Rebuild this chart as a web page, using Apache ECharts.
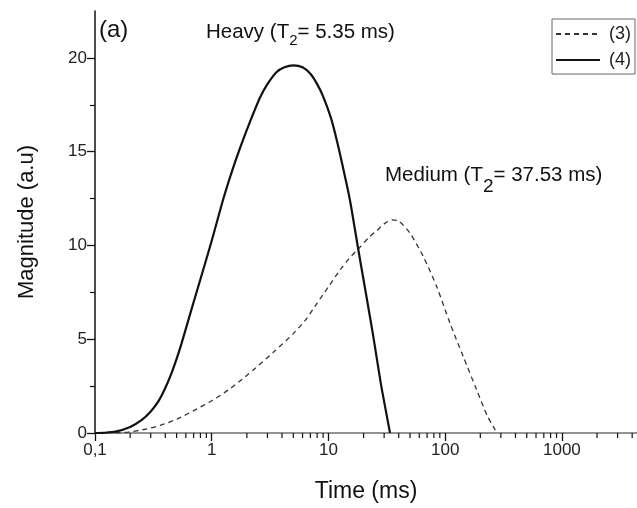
<!DOCTYPE html>
<html>
<head>
<meta charset="utf-8">
<script src="https://cdn.jsdelivr.net/npm/echarts@6/dist/echarts.min.js"></script>
<style>
html,body{margin:0;padding:0;background:#fff;}
#chart{width:637px;height:508px;}
</style>
</head>
<body>
<div id="chart"></div>
<script>
// Series (4) solid – Heavy
const timeHeavy = [0.1, 0.12, 0.15, 0.2, 0.25, 0.3, 0.35, 0.4, 0.45, 0.5, 0.55, 0.65, 0.8, 1.0, 1.26, 1.5, 1.75, 2.13, 2.6, 3.0, 3.6, 4.2, 5.0, 6.0, 7.0, 8.0, 9.0, 10.5, 11.8, 13.5, 15.3, 18, 21, 24.3, 28, 31, 33.7];
const valHeavy  = [0, 0.01, 0.07, 0.32, 0.68, 1.15, 1.7, 2.4, 3.15, 3.95, 4.75, 6.3, 8.2, 10.25, 12.5, 14.0, 15.2, 16.6, 17.9, 18.6, 19.25, 19.5, 19.6, 19.5, 19.15, 18.6, 17.95, 16.8, 15.6, 14.0, 12.4, 9.8, 7.4, 5.1, 2.7, 1.2, 0];
// Series (3) dashed – Medium
const timeMedium = [0.15, 0.193, 0.268, 0.372, 0.518, 0.72, 1.0, 1.39, 1.94, 2.36, 3.37, 5.0, 6.5, 7.95, 10, 12.6, 15, 18.6, 22, 26, 30, 35, 40, 50, 65, 84.7, 110, 143, 186, 230, 259, 276];
const valMedium  = [0, 0.05, 0.2, 0.43, 0.78, 1.23, 1.72, 2.3, 3.0, 3.45, 4.3, 5.3, 6.1, 6.9, 7.8, 8.7, 9.3, 9.9, 10.4, 10.8, 11.15, 11.36, 11.3, 10.65, 9.4, 7.8, 5.85, 4.07, 2.3, 0.9, 0.34, 0];
// Axis tick labels / minor tick values
const yTickValues = [0, 5, 10, 15, 20];
const xMinorTicks = [0.2,0.3,0.4,0.5,0.6,0.7,0.8,0.9, 2,3,4,5,6,7,8,9, 20,30,40,50,60,70,80,90, 200,300,400,500,600,700,800,900, 2000,3000,4000];
const seriesNames = ['(3)', '(4)'];

const FONT = 'Liberation Sans, Arial, sans-serif';
const chart = echarts.init(document.getElementById('chart'));

function zip(a, b) { return a.map((v, i) => [v, b[i]]); }

chart.setOption({
  animation: false,
  backgroundColor: '#fff',
  textStyle: { fontFamily: FONT },
  grid: { left: 95, top: 11, right: 0, bottom: 75, containLabel: false },
  legend: {
    orient: 'vertical',
    right: 2,
    top: 19,
    data: seriesNames,
    itemWidth: 44,
    itemHeight: 12,
    itemGap: 8,
    padding: [6, 4, 5, 3],
    borderColor: '#666',
    borderWidth: 1,
    itemStyle: { opacity: 0 },
    textStyle: { fontFamily: FONT, fontSize: 18, color: '#222', padding: [0, 0, 0, 4] }
  },
  xAxis: [{
    type: 'log',
    logBase: 10,
    min: 0.1,
    max: 4400,
    position: 'bottom',
    name: 'Time (ms)',
    nameLocation: 'middle',
    nameGap: 47,
    nameTextStyle: { fontFamily: FONT, fontSize: 23, color: '#111' },
    axisLine: { onZero: false, lineStyle: { color: '#111', width: 1.5 } },
    axisTick: { show: true, inside: false, length: 8, lineStyle: { color: '#111', width: 1.3 } },
    axisLabel: {
      fontFamily: FONT, fontSize: 17, color: '#222', margin: 9,
      showMaxLabel: false,
      formatter: function (v) { return v === 0.1 ? '0,1' : String(v); }
    },
    splitLine: { show: false },
    minorTick: { show: false }
  }, {
    type: 'log',
    min: 0.1,
    max: 4400,
    position: 'top',
    axisLine: { show: true, lineStyle: { color: '#aaa', width: 1.5 } },
    axisTick: { show: false },
    axisLabel: { show: false },
    splitLine: { show: false }
  }],
  yAxis: {
    type: 'value',
    min: 0,
    max: 22.5,
    interval: 5,
    name: 'Magnitude (a.u)',
    nameLocation: 'middle',
    nameGap: 57,
    nameTextStyle: { fontFamily: FONT, fontSize: 22, color: '#111' },
    axisLine: { show: true, lineStyle: { color: '#111', width: 1.5 } },
    axisTick: { show: true, inside: false, length: 8, customValues: yTickValues, lineStyle: { color: '#111', width: 1.3 } },
    minorTick: { show: true, splitNumber: 2, length: 5, lineStyle: { color: '#111', width: 1.2 } },
    axisLabel: { fontFamily: FONT, fontSize: 17, color: '#222', margin: 8, customValues: yTickValues },
    splitLine: { show: false }
  },
  series: [{
    name: '(3)',
    type: 'line',
    data: zip(timeMedium, valMedium),
    smooth: 0.25,
    symbol: 'none',
    showSymbol: false,
    lineStyle: { color: '#333', width: 1.3, type: [5, 4] },
    itemStyle: { color: '#333' },
    z: 3
  }, {
    name: '(4)',
    type: 'line',
    data: zip(timeHeavy, valHeavy),
    smooth: 0.25,
    symbol: 'none',
    showSymbol: false,
    lineStyle: { color: '#111', width: 2.2, type: 'solid' },
    itemStyle: { color: '#111' },
    z: 4
  }, {
    name: 'minorTicks',
    type: 'custom',
    silent: true,
    clip: false,
    data: xMinorTicks.map(v => [v, 0]),
    renderItem: function (params, api) {
      const p = api.coord([api.value(0), 0]);
      return {
        type: 'line',
        shape: { x1: p[0], y1: p[1], x2: p[0], y2: p[1] + 5 },
        style: { stroke: '#111', lineWidth: 1.2 }
      };
    },
    z: 2
  }],
  graphic: [{
    type: 'text',
    left: 99,
    top: 18,
    style: { text: '(a)', fontFamily: FONT, fontSize: 24, fill: '#111' }
  }, {
    type: 'text',
    left: 206,
    top: 22,
    style: {
      text: '{a|Heavy (T}{s|2}{a|= 5.35 ms)}',
      rich: {
        a: { fontFamily: FONT, fontSize: 20.5, fill: '#111', verticalAlign: 'top', lineHeight: 20 },
        s: { fontFamily: FONT, fontSize: 15, fill: '#111', verticalAlign: 'top', lineHeight: 15, padding: [11, 0, 0, 0] }
      }
    }
  }, {
    type: 'text',
    left: 385,
    top: 165,
    style: {
      text: '{a|Medium (T}{s|2}{a|= 37.53 ms)}',
      rich: {
        a: { fontFamily: FONT, fontSize: 20.5, fill: '#111', verticalAlign: 'top', lineHeight: 20 },
        s: { fontFamily: FONT, fontSize: 19, fill: '#111', verticalAlign: 'top', lineHeight: 19, padding: [12, 0, 0, 0] }
      }
    }
  }]
});
</script>
</body>
</html>
